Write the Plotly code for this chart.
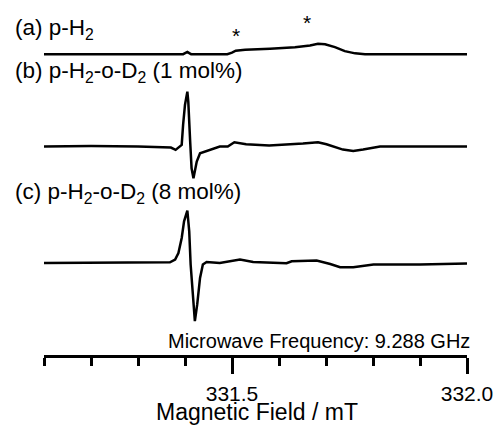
import plotly.graph_objects as go

# ---- data (magnetic field in mT, intensity in arbitrary units) ----
field_a = [331.100, 331.200, 331.300, 331.396, 331.401, 331.405, 331.409, 331.413, 331.490,
           331.500, 331.508, 331.528, 331.581, 331.634, 331.666, 331.683, 331.698, 331.719,
           331.740, 331.762, 331.783, 331.850, 331.900, 332.000]
int_a = [0.0, 0.3, 0.0, 0.0, 1.5, 2.3, 1.0, 0.0, 0.0,
         1.5, 3.5, 4.3, 5.5, 7.0, 8.7, 10.5, 10.0, 7.0,
         3.0, 0.8, 0.0, 0.2, 0.0, 0.0]

field_b = [331.100, 331.200, 331.300, 331.370, 331.380, 331.393, 331.396, 331.400, 331.405,
           331.407, 331.411, 331.414, 331.418, 331.421, 331.425, 331.432, 331.453, 331.474,
           331.491, 331.505, 331.530, 331.579, 331.651, 331.683, 331.701, 331.736, 331.758,
           331.779, 331.815, 331.900, 332.000]
int_b = [1.0, 1.5, 1.0, 0.0, -2.3, 2.7, 23.0, 43.0, 56.0,
         46.0, 6.0, -20.7, -30.7, -24.0, -14.0, -5.7, -2.0, 1.0,
         1.0, 5.3, 3.3, 2.0, 4.0, 5.3, 3.3, -2.0, -3.3,
         -2.0, 1.0, 0.7, 1.0]

field_c = [331.100, 331.200, 331.300, 331.368, 331.379, 331.386, 331.393, 331.398, 331.405,
           331.409, 331.412, 331.416, 331.421, 331.426, 331.432, 331.438, 331.446, 331.474,
           331.517, 331.545, 331.616, 331.627, 331.680, 331.709, 331.730, 331.758, 331.801,
           331.900, 332.000]
int_c = [0.0, 0.3, 0.0, 0.7, 3.4, 10.0, 25.0, 41.7, 52.4,
         31.7, -1.6, -31.6, -58.3, -41.6, -15.0, -1.6, 1.0, 0.0,
         3.4, 1.0, -0.3, 1.7, 2.4, -1.0, -4.3, -4.3, -1.6,
         -1.6, -0.6]

offsets = [300.7, 207.0, 91.3]
labels = ["(a) p-H<sub>2</sub>",
          "(b) p-H<sub>2</sub>-o-D<sub>2</sub> (1 mol%)",
          "(c) p-H<sub>2</sub>-o-D<sub>2</sub> (8 mol%)"]
label_y = [326.0, 283.0, 161.0]
star_field = [331.5085, 331.6596]
star_y = [319.0, 332.0]

major_ticks = [331.5, 332.0]
major_text = ["331.5", "332.0"]
minor_ticks = [331.1, 331.2, 331.3, 331.4, 331.6, 331.7, 331.8, 331.9]

FONT = "Liberation Sans, Arial, sans-serif"

fig = go.Figure()
for fx, iy, off in zip([field_a, field_b, field_c], [int_a, int_b, int_c], offsets):
    fig.add_trace(go.Scatter(x=fx, y=[v + off for v in iy], mode="lines",
                             line=dict(color="black", width=2.5), showlegend=False,
                             hoverinfo="skip"))

ann = []
for t, y in zip(labels, label_y):
    ann.append(dict(x=-0.073, xref="paper", y=y, yref="y", text=t, showarrow=False,
                    xanchor="left", yanchor="middle", font=dict(size=22.5, color="black", family=FONT)))
for sx, sy in zip(star_field, star_y):
    ann.append(dict(x=sx, y=sy, xref="x", yref="y", text="*", showarrow=False,
                    xanchor="center", yanchor="middle", font=dict(size=21, color="black", family=FONT)))
ann.append(dict(x=1.012, xref="paper", y=13, yref="y", text="Microwave Frequency: 9.288 GHz",
                showarrow=False, xanchor="right", yanchor="middle",
                font=dict(size=20, color="black", family=FONT)))
ann.append(dict(x=0.503, xref="paper", y=-0.2, yref="paper", text="Magnetic Field / mT",
                showarrow=False, xanchor="center", yanchor="bottom", borderpad=0,
                font=dict(size=23, color="black", family=FONT)))

fig.update_layout(
    width=500, height=426,
    margin=dict(l=44, r=33, t=0, b=71),
    paper_bgcolor="white", plot_bgcolor="white",
    font=dict(family=FONT, color="black"),
    annotations=ann,
    xaxis=dict(range=[331.1, 332.0], showline=True, linecolor="black", linewidth=2.5,
               ticks="outside", ticklen=16, tickwidth=2.5, tickcolor="black",
               tickmode="array", tickvals=major_ticks, ticktext=major_text,
               tickfont=dict(size=21, family=FONT, color="black"),
               ticklabelstandoff=2,
               minor=dict(tickmode="array", tickvals=minor_ticks, ticks="outside",
                          ticklen=8, tickwidth=2.5, tickcolor="black", showgrid=False),
               showgrid=False, zeroline=False),
    yaxis=dict(range=[-1, 355], visible=False, showgrid=False, zeroline=False),
)

fig.write_html("out.html")
